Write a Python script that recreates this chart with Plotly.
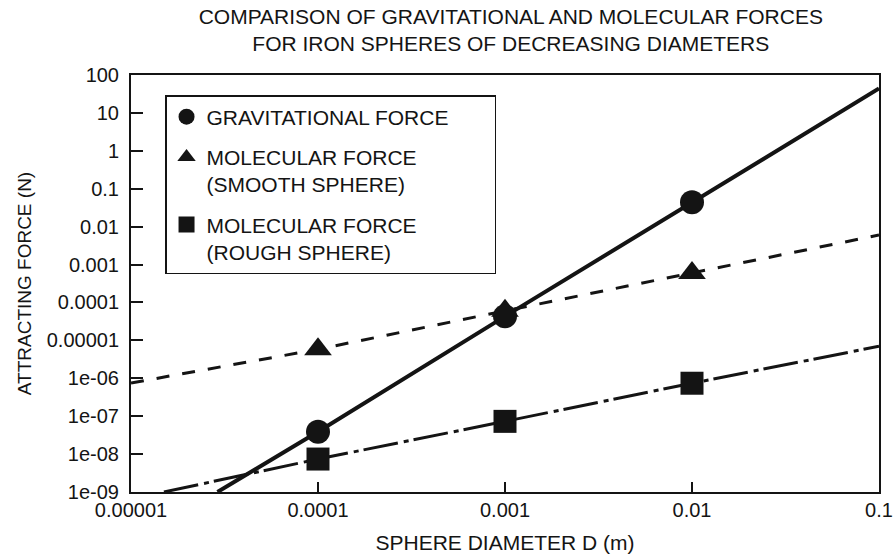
import plotly.graph_objects as go

# Sphere diameters (m) at which forces were evaluated
diameters = [0.0001, 0.001, 0.01, 0.1]

# Attracting force (N) for each case
grav_force = [3.9e-8, 4.3e-5, 4.4e-2, 44]
smooth_force = [5.8e-6, 6.0e-5, 6.0e-4, 6.0e-3]
rough_force = [7.4e-9, 7.3e-8, 7.4e-7, 7.0e-6]

# Where each trend line enters the plotting window on the left
grav_line_start = (2.9e-5, 1e-9)
smooth_line_start = (1e-5, 7.5e-7)
rough_line_start = (1.5e-5, 1e-9)

# Axis ticks
x_tickvals = [1e-5, 1e-4, 1e-3, 1e-2, 1e-1]
x_ticktext = ["0.00001", "0.0001", "0.001", "0.01", "0.1"]
y_tickvals = [1e2, 1e1, 1e0, 1e-1, 1e-2, 1e-3, 1e-4, 1e-5, 1e-6, 1e-7, 1e-8, 1e-9]
y_ticktext = ["100", "10", "1", "0.1", "0.01", "0.001", "0.0001", "0.00001",
              "1e-06", "1e-07", "1e-08", "1e-09"]

FONT = "Liberation Sans, Arial, Helvetica, sans-serif"
INK = "#141414"
PAD = "\u00a0" * 7  # widens the legend box on the right

fig = go.Figure()

# Trend lines (drawn first so markers sit on top)
fig.add_trace(go.Scatter(
    x=[grav_line_start[0]] + diameters, y=[grav_line_start[1]] + grav_force,
    mode="lines", line=dict(color=INK, width=4), showlegend=False, hoverinfo="skip"))
fig.add_trace(go.Scatter(
    x=[smooth_line_start[0]] + diameters, y=[smooth_line_start[1]] + smooth_force,
    mode="lines", line=dict(color=INK, width=3, dash="13px,13px"),
    showlegend=False, hoverinfo="skip"))
fig.add_trace(go.Scatter(
    x=[rough_line_start[0]] + diameters, y=[rough_line_start[1]] + rough_force,
    mode="lines", line=dict(color=INK, width=3, dash="35px,6px,5px,5px"),
    showlegend=False, hoverinfo="skip"))

# Data markers, each in its own legend group so the group gap spaces the entries
fig.add_trace(go.Scatter(
    x=diameters, y=smooth_force, mode="markers", name="MOLECULAR FORCE<br>(SMOOTH SPHERE)",
    marker=dict(symbol="triangle-up", size=24, color=INK), cliponaxis=False,
    legendrank=2, legendgroup="smooth"))
fig.add_trace(go.Scatter(
    x=diameters, y=grav_force, mode="markers", name="GRAVITATIONAL FORCE" + PAD,
    marker=dict(symbol="circle", size=24, color=INK), cliponaxis=False,
    legendrank=1, legendgroup="grav"))
fig.add_trace(go.Scatter(
    x=diameters, y=rough_force, mode="markers", name="MOLECULAR FORCE<br>(ROUGH SPHERE)",
    marker=dict(symbol="square", size=23, color=INK), cliponaxis=False,
    legendrank=3, legendgroup="rough"))

axis_common = dict(
    type="log", showgrid=False, zeroline=False, automargin=False,
    showline=True, linecolor=INK, linewidth=2, mirror=True,
    ticks="inside", tickcolor=INK, tickwidth=2,
    tickfont=dict(family=FONT, size=20, color=INK),
)

fig.update_layout(
    width=893, height=560,
    margin=dict(l=131, r=14, t=75, b=68, autoexpand=False),
    paper_bgcolor="white", plot_bgcolor="white",
    font=dict(family=FONT, color=INK),
    title=dict(
        text="COMPARISON OF GRAVITATIONAL AND MOLECULAR FORCES<br>FOR IRON SPHERES OF DECREASING DIAMETERS",
        x=0.572, xref="container", xanchor="center",
        y=0.957, yref="container", yanchor="top",
        font=dict(family=FONT, size=21, color=INK),
    ),
    xaxis=dict(
        axis_common, range=[-5, -1], tickvals=x_tickvals, ticktext=x_ticktext,
        ticklen=10, ticklabelstandoff=-1,
        title=dict(text="SPHERE DIAMETER D (m)", standoff=15,
                   font=dict(family=FONT, size=21, color=INK)),
    ),
    yaxis=dict(
        axis_common, range=[-9, 2], tickvals=y_tickvals, ticktext=y_ticktext,
        ticklen=12, ticklabelstandoff=6,
        title=dict(text="ATTRACTING FORCE (N)", standoff=10,
                   font=dict(family=FONT, size=19, color=INK)),
    ),
    legend=dict(
        x=0.0455, y=0.952, xanchor="left", yanchor="top",
        bgcolor="white", bordercolor=INK, borderwidth=1.5,
        font=dict(family=FONT, size=21, color=INK),
        valign="top", traceorder="grouped", tracegroupgap=10,
    ),
)

fig.write_html("out.html")
